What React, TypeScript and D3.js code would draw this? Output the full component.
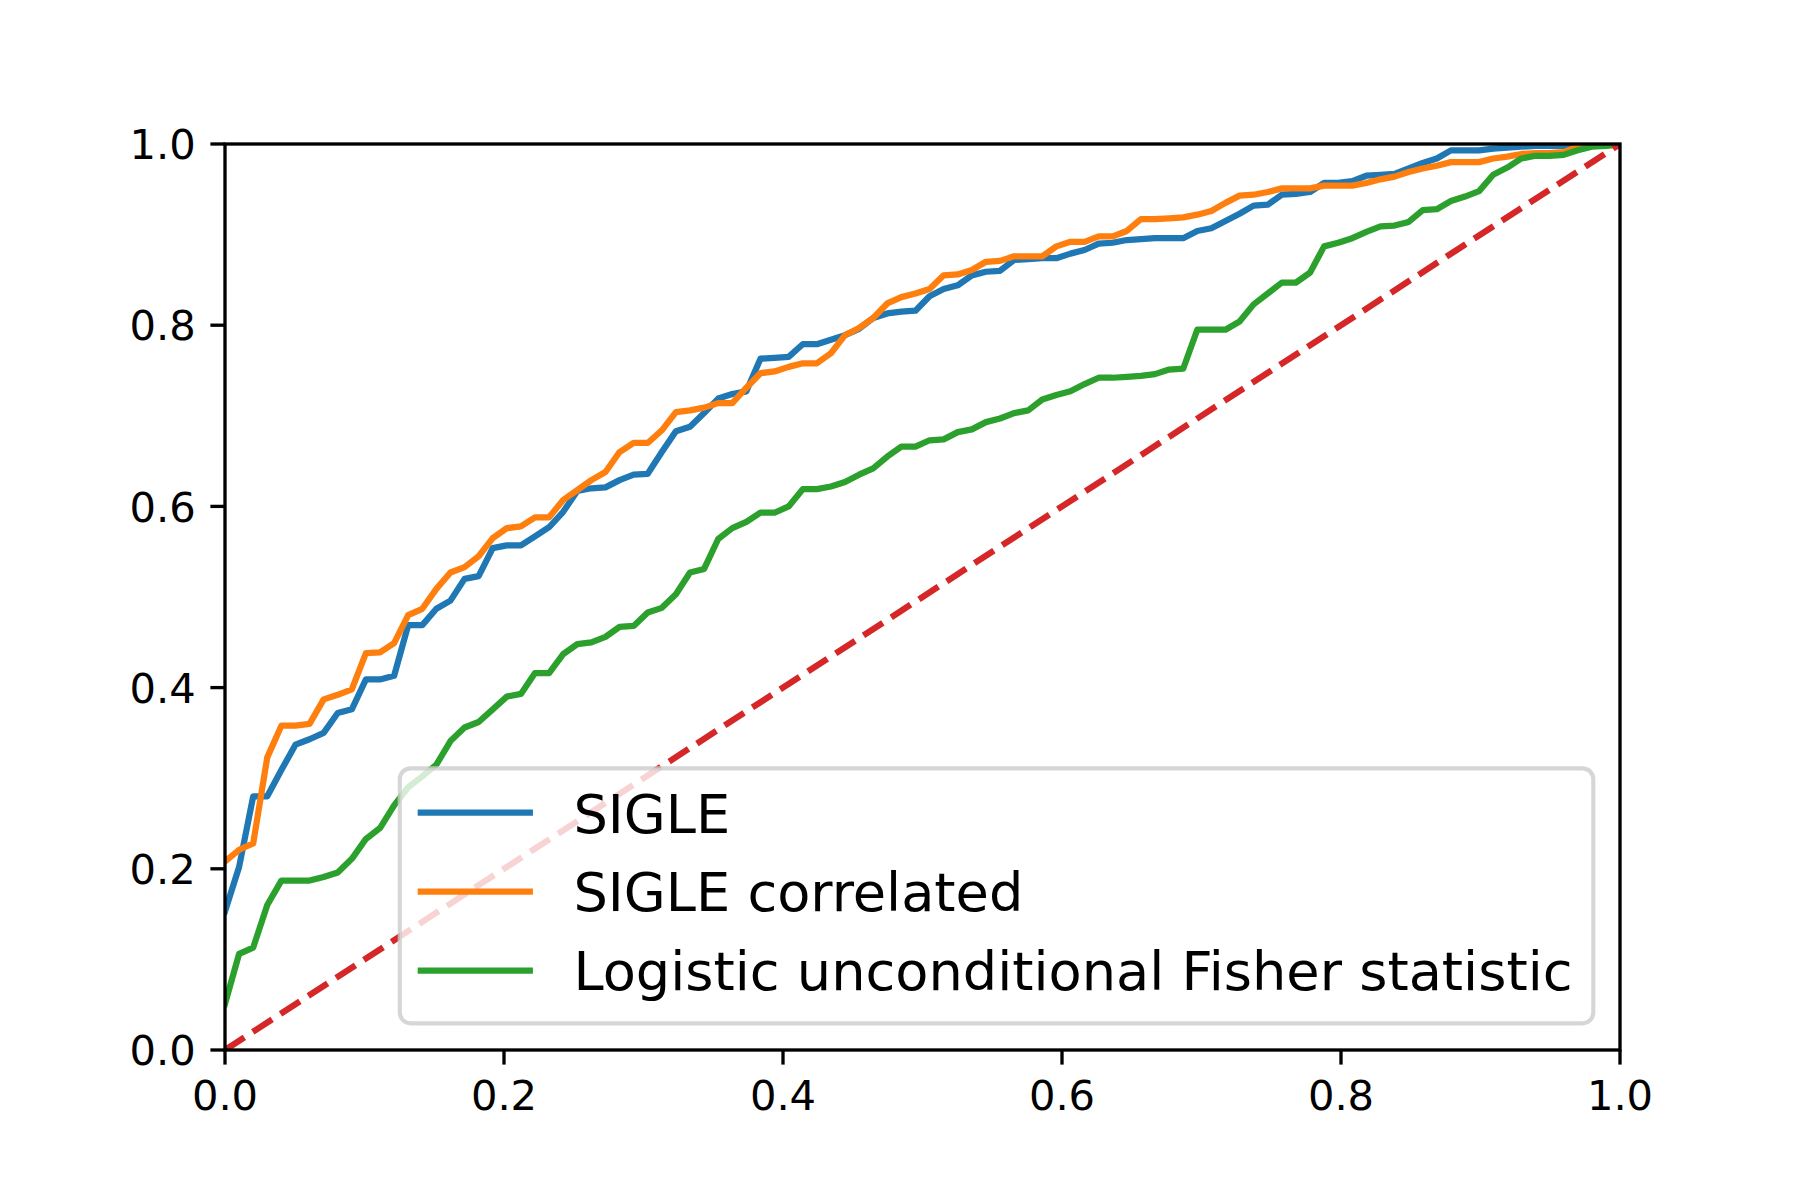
import React from "react";
import * as d3 from "d3";

const xTicks = [0, 0.2, 0.4, 0.6, 0.8, 1.0];
const yTicks = [0, 0.2, 0.4, 0.6, 0.8, 1.0];

const seriesNames = ["SIGLE", "SIGLE correlated", "Logistic unconditional Fisher statistic"];
const seriesColors = ["#1f77b4", "#ff7f0e", "#2ca02c"];

const sigle = [
  0.153, 0.202, 0.280, 0.280, 0.309, 0.337, 0.343, 0.350, 0.372, 0.376,
  0.409, 0.409, 0.413, 0.469, 0.469, 0.487, 0.496, 0.520, 0.523, 0.554,
  0.557, 0.557, 0.567, 0.577, 0.594, 0.617, 0.620, 0.621, 0.629, 0.635,
  0.636, 0.660, 0.683, 0.688, 0.703, 0.719, 0.724, 0.727, 0.763, 0.764,
  0.765, 0.779, 0.779, 0.784, 0.789, 0.796, 0.808, 0.813, 0.815, 0.816,
  0.832, 0.840, 0.844, 0.855, 0.859, 0.860, 0.872, 0.873, 0.874, 0.874,
  0.879, 0.883, 0.890, 0.891, 0.894, 0.895, 0.896, 0.896, 0.896, 0.904,
  0.907, 0.915, 0.923, 0.932, 0.933, 0.944, 0.945, 0.947, 0.957, 0.957,
  0.959, 0.965, 0.966, 0.967, 0.973, 0.979, 0.984, 0.993, 0.993, 0.993,
  0.995, 0.996, 0.997, 0.998, 0.998, 0.998, 0.999, 1.0, 1.0, 1.0,
];

const sigleCorrelated = [
  0.208, 0.221, 0.228, 0.323, 0.358, 0.358, 0.360, 0.387, 0.392, 0.398,
  0.438, 0.439, 0.449, 0.480, 0.487, 0.509, 0.527, 0.533, 0.545, 0.565,
  0.576, 0.578, 0.588, 0.588, 0.607, 0.618, 0.629, 0.638, 0.660, 0.670,
  0.670, 0.684, 0.704, 0.706, 0.709, 0.714, 0.714, 0.731, 0.747, 0.749,
  0.754, 0.758, 0.758, 0.769, 0.789, 0.797, 0.808, 0.824, 0.831, 0.835,
  0.840, 0.855, 0.856, 0.861, 0.870, 0.871, 0.876, 0.876, 0.876, 0.887,
  0.892, 0.892, 0.898, 0.898, 0.904, 0.917, 0.917, 0.918, 0.919, 0.922,
  0.926, 0.935, 0.943, 0.944, 0.947, 0.951, 0.951, 0.951, 0.954, 0.954,
  0.954, 0.957, 0.961, 0.964, 0.969, 0.973, 0.976, 0.980, 0.980, 0.980,
  0.984, 0.986, 0.989, 0.990, 0.990, 0.991, 0.997, 0.998, 0.998, 1.0,
];

const logisticFisher = [
  0.051, 0.106, 0.113, 0.160, 0.187, 0.187, 0.187, 0.191, 0.196, 0.211,
  0.233, 0.245, 0.270, 0.290, 0.302, 0.315, 0.341, 0.356, 0.362, 0.376,
  0.390, 0.393, 0.416, 0.416, 0.437, 0.448, 0.450, 0.456, 0.467, 0.468,
  0.483, 0.488, 0.503, 0.527, 0.531, 0.564, 0.576, 0.583, 0.593, 0.593,
  0.600, 0.619, 0.619, 0.622, 0.627, 0.635, 0.642, 0.655, 0.666, 0.666,
  0.673, 0.674, 0.682, 0.685, 0.693, 0.697, 0.703, 0.706, 0.718, 0.723,
  0.727, 0.735, 0.742, 0.742, 0.743, 0.744, 0.746, 0.751, 0.752, 0.795,
  0.795, 0.795, 0.804, 0.823, 0.835, 0.847, 0.847, 0.858, 0.887, 0.891,
  0.896, 0.903, 0.909, 0.910, 0.914, 0.927, 0.928, 0.937, 0.942, 0.948,
  0.966, 0.974, 0.984, 0.987, 0.987, 0.988, 0.993, 0.997, 0.998, 1.0,
];

const diagonal = [0, 1];

const W = 1800;
const H = 1200;
const left = 225;
const right = 1620;
const top = 144;
const bottom = 1050;

const FONT = "DejaVu Sans";

export default function App() {
  const x = d3.scaleLinear().domain([0, 1]).range([left, right]);
  const y = d3.scaleLinear().domain([0, 1]).range([bottom, top]);

  const allSeries = [sigle, sigleCorrelated, logisticFisher];
  const line = d3
    .line<number>()
    .x((_, i) => x(i / (sigle.length - 1)))
    .y((d) => y(d));
  const diagLine = d3
    .line<number>()
    .x((d) => x(d))
    .y((d) => y(d));

  const lw = 6.25;
  const tickLen = 14.6;
  const spineW = 3.33;
  const tickFs = 41.67;
  const legFs = 54.2;

  // legend geometry
  const legLeft = 399.8;
  const legRight = 1593.3;
  const legTop = 768.3;
  const legBottom = 1023.3;
  const rowY = [812.7, 891.7, 970.7];
  const baseY = [832.5, 911.3, 990.2];
  const handleX0 = 420.8;
  const handleX1 = 529.8;
  const textX = 573.4;

  return (
    <svg
      width={W}
      height={H}
      viewBox={`0 0 ${W} ${H}`}
      style={{ position: "absolute", left: 0, top: 0, background: "#fff" }}
      fontFamily={FONT}
    >
      <rect x={0} y={0} width={W} height={H} fill="#fff" />
      <defs>
        <clipPath id="axclip">
          <rect x={left} y={top} width={right - left} height={bottom - top} />
        </clipPath>
      </defs>
      <g clipPath="url(#axclip)">
        {allSeries.map((s, k) => (
          <path
            key={k}
            d={line(s) || ""}
            fill="none"
            stroke={seriesColors[k]}
            strokeWidth={lw}
            strokeLinejoin="round"
            strokeLinecap="square"
          />
        ))}
        <path
          d={diagLine(diagonal) || ""}
          fill="none"
          stroke="#d62728"
          strokeWidth={lw}
          strokeDasharray="23.1 10"
          strokeLinecap="butt"
        />
      </g>

      {/* spines */}
      <rect
        x={left}
        y={top}
        width={right - left}
        height={bottom - top}
        fill="none"
        stroke="#000"
        strokeWidth={spineW}
        strokeLinejoin="miter"
      />

      {/* x ticks */}
      {xTicks.map((t) => (
        <g key={"x" + t}>
          <line x1={x(t)} x2={x(t)} y1={bottom} y2={bottom + tickLen} stroke="#000" strokeWidth={spineW} />
          <text x={x(t)} y={1110} fontSize={tickFs} textAnchor="middle" fill="#000">
            {t.toFixed(1)}
          </text>
        </g>
      ))}
      {/* y ticks */}
      {yTicks.map((t) => (
        <g key={"y" + t}>
          <line x1={left - tickLen} x2={left} y1={y(t)} y2={y(t)} stroke="#000" strokeWidth={spineW} />
          <text x={left - tickLen - 14.6} y={y(t) + 15.2} fontSize={tickFs} textAnchor="end" fill="#000">
            {t.toFixed(1)}
          </text>
        </g>
      ))}

      {/* legend */}
      <rect
        x={legLeft}
        y={legTop}
        width={legRight - legLeft}
        height={legBottom - legTop}
        rx={10.8}
        ry={10.8}
        fill="#ffffff"
        fillOpacity={0.8}
        stroke="#cccccc"
        strokeOpacity={0.8}
        strokeWidth={4.17}
      />
      {seriesNames.map((name, k) => (
        <g key={name}>
          <line
            x1={handleX0}
            x2={handleX1}
            y1={rowY[k]}
            y2={rowY[k]}
            stroke={seriesColors[k]}
            strokeWidth={lw}
            strokeLinecap="square"
          />
          <text x={textX} y={baseY[k]} fontSize={legFs} fill="#000">
            {name}
          </text>
        </g>
      ))}
    </svg>
  );
}
